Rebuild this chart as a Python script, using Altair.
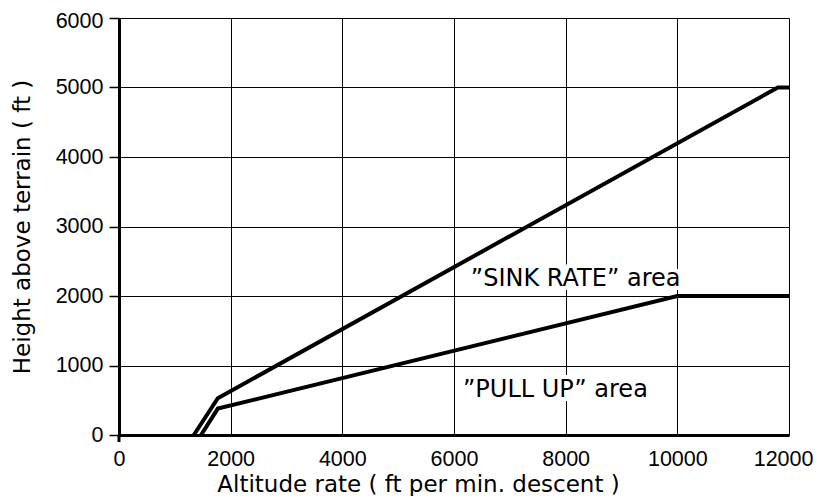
import altair as alt
import pandas as pd

# upper boundary ("SINK RATE") and lower boundary ("PULL UP")
upper_x = [1340, 1770, 11800, 12000]
upper_y = [0, 530, 5000, 5000]
lower_x = [1470, 1770, 10000, 12000]
lower_y = [0, 380, 2000, 2000]

label_text = ["\u201dSINK RATE\u201d area", "\u201dPULL UP\u201d area"]
label_x = [6300, 6160]
label_y = [2250, 650]

x_ticks = [0, 2000, 4000, 6000, 8000, 10000, 12000]
y_ticks = [0, 1000, 2000, 3000, 4000, 5000, 6000]

rows = []
for i, (xv, yv) in enumerate(zip(upper_x, upper_y)):
    rows.append({"series": "upper", "order": i, "x": xv, "y": yv})
for i, (xv, yv) in enumerate(zip(lower_x, lower_y)):
    rows.append({"series": "lower", "order": i, "x": xv, "y": yv})
lines_df = pd.DataFrame(rows)
labels_df = pd.DataFrame({"text": label_text, "x": label_x, "y": label_y})

FONT = "DejaVu Sans"
NUM_FONT = "Liberation Sans"
W, H = 670, 417

x_scale = alt.Scale(domain=[0, 12000], nice=False, zero=False)
y_scale = alt.Scale(domain=[0, 6000], nice=False, zero=False)

last_x = "datum.value == 12000"
top_y = "datum.value == 6000"

x_axis = alt.Axis(
    values=x_ticks, format="d", title="Altitude rate ( ft per min. descent )",
    grid=True, gridColor="black", gridWidth=1, gridOpacity=1,
    domainColor="black", domainWidth=3, ticks=False,
    labelFont=NUM_FONT, labelFontSize=21.5, labelColor="black", labelPadding=13,
    labelBaseline="top", labelFlush=False, labelOverlap=False,
    labelAlign={"condition": {"test": last_x, "value": "right"}, "value": "center"},
    labelOffset={"condition": {"test": last_x, "value": 24}, "value": 0},
    titleFont=FONT, titleFontSize=23, titleFontWeight="normal", titleColor="black",
    titleX=299, titleY=56, titleAlign="center", titleBaseline="alphabetic",
)
y_axis = alt.Axis(
    values=y_ticks, format="d", title="Height above terrain ( ft )",
    grid=True, gridColor="black", gridWidth=1, gridOpacity=1,
    domainColor="black", domainWidth=3, tickColor="black", tickWidth=1.5, tickSize=10,
    labelFont=NUM_FONT, labelFontSize=21.5, labelColor="black", labelPadding=6,
    labelFlush=False, labelOverlap=False,
    labelOffset={"condition": {"test": top_y, "value": 3}, "value": 0},
    titleFont=FONT, titleFontSize=23, titleFontWeight="normal", titleColor="black",
    titleX=-90, titleY=H / 2, titleAngle=270, titleAlign="center", titleBaseline="alphabetic",
)

lines = alt.Chart(lines_df).mark_line(color="black", strokeWidth=4, strokeJoin="miter").encode(
    x=alt.X("x:Q", scale=x_scale, axis=x_axis),
    y=alt.Y("y:Q", scale=y_scale, axis=y_axis),
    detail="series:N",
    order="order:Q",
)

# small downward extension of the y axis below the x axis at x = 0
stub = alt.Chart(pd.DataFrame({"x": [0], "y": [0]})).mark_rule(color="black", strokeWidth=3).encode(
    x=alt.X("x:Q", scale=x_scale),
    y=alt.Y("y:Q", scale=y_scale),
    y2=alt.value(H + 7),
)

halo = alt.Chart(labels_df).mark_text(
    align="left", baseline="middle", font=FONT, fontSize=24,
    color="white", stroke="white", strokeWidth=8,
).encode(
    x=alt.X("x:Q", scale=x_scale),
    y=alt.Y("y:Q", scale=y_scale),
    text="text:N",
)

texts = alt.Chart(labels_df).mark_text(
    align="left", baseline="middle", font=FONT, fontSize=24, color="black",
).encode(
    x=alt.X("x:Q", scale=x_scale),
    y=alt.Y("y:Q", scale=y_scale),
    text="text:N",
)

chart = alt.layer(lines, stub, halo, texts).properties(
    width=W, height=H,
    padding={"left": 111, "top": 10, "right": 24, "bottom": 61},
    autosize=alt.AutoSizeParams(type="none"),
    background="white",
).configure_view(stroke=None)

chart.save("out.html", embed_options={"renderer": "svg", "actions": False})
